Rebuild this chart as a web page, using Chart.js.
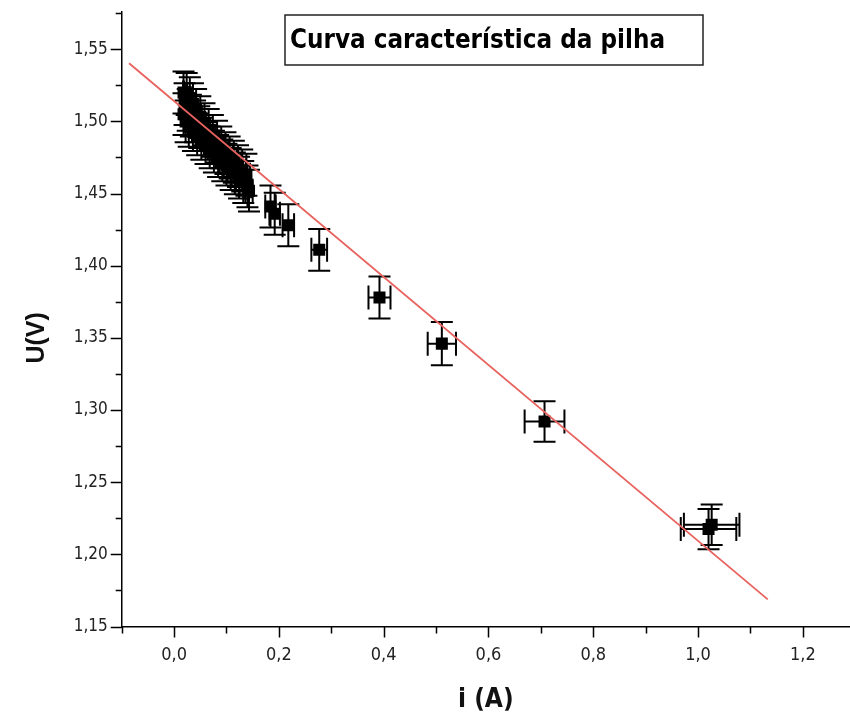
<!DOCTYPE html>
<html>
<head>
<meta charset="utf-8">
<script src="https://cdn.jsdelivr.net/npm/chart.js@4/dist/chart.umd.min.js"></script>
<style>
  html, body { margin: 0; padding: 0; background: #fff; overflow: hidden; }
  #wrap { width: 850px; height: 723px; }
</style>
</head>
<body>
<div id="wrap"><canvas id="myChart" width="850" height="723"></canvas></div>
<script>
var current = [0.018, 0.024, 0.030, 0.036, 0.042, 0.050, 0.058, 0.066, 0.074, 0.082,
               0.090, 0.098, 0.106, 0.114, 0.122, 0.130, 0.138,
               0.018, 0.022, 0.028, 0.036, 0.044, 0.052, 0.060, 0.068, 0.076, 0.084,
               0.092, 0.100, 0.108, 0.116, 0.124, 0.132, 0.140, 0.143,
               0.020, 0.026, 0.032, 0.040, 0.048,
               0.184, 0.192, 0.218, 0.277, 0.392, 0.511, 0.707, 1.020, 1.026];
var voltage = [1.520, 1.519, 1.516, 1.512, 1.508, 1.503, 1.498, 1.494, 1.490, 1.486,
               1.482, 1.478, 1.475, 1.472, 1.469, 1.466, 1.463,
               1.505, 1.500, 1.497, 1.494, 1.491, 1.488, 1.485, 1.482, 1.479, 1.476,
               1.473, 1.470, 1.467, 1.464, 1.461, 1.458, 1.455, 1.452,
               1.512, 1.508, 1.504, 1.500, 1.496,
               1.441, 1.436, 1.428, 1.411, 1.378, 1.346, 1.292, 1.2175, 1.2205];
// error bars
var currentErr = [0.001, 0.001, 0.002, 0.002, 0.002, 0.003, 0.003, 0.003, 0.004, 0.004,
                  0.005, 0.005, 0.006, 0.006, 0.006, 0.007, 0.007,
                  0.001, 0.001, 0.001, 0.002, 0.002, 0.003, 0.003, 0.004, 0.004, 0.004,
                  0.005, 0.005, 0.006, 0.006, 0.006, 0.007, 0.007, 0.007,
                  0.001, 0.001, 0.002, 0.002, 0.002,
                  0.010, 0.010, 0.011, 0.015, 0.021, 0.027, 0.038, 0.053, 0.053];
var voltageErr = [0.0145, 0.0145, 0.0145, 0.0145, 0.0145, 0.0145, 0.0145, 0.0145, 0.0145, 0.0145,
                  0.0145, 0.0145, 0.0145, 0.0145, 0.0145, 0.0145, 0.0145,
                  0.0145, 0.0145, 0.0145, 0.0145, 0.0145, 0.0145, 0.0145, 0.0145, 0.0145, 0.0145,
                  0.0145, 0.0145, 0.0145, 0.0145, 0.0145, 0.0145, 0.0145, 0.0145,
                  0.0145, 0.0145, 0.0145, 0.0145, 0.0145,
                  0.0145, 0.0145, 0.0145, 0.0145, 0.0145, 0.015, 0.014, 0.014, 0.014];
// linear fit (red line) end points
var fitCurrent = [-0.086, 1.133];
var fitVoltage = [1.5403, 1.1688];

var chartTitle = 'Curva característica da pilha';
var xTitle = 'i (A)';
var yTitle = 'U(V)';

var narrow = "'DejaVu Sans Condensed', 'Liberation Sans', sans-serif";

function isMajor(v, per) {
    var k = v * per;
    return Math.abs(k - Math.round(k)) < 1e-6;
}

var points = current.map(function(c, i) { return {x: c, y: voltage[i]}; });
var fit = fitCurrent.map(function(c, i) { return {x: c, y: fitVoltage[i]}; });

// error bars, drawn under the markers
var errorBars = {
    id: 'errorBars',
    beforeDatasetsDraw: function(chart) {
        var ctx = chart.ctx;
        var xs = chart.scales.x, ys = chart.scales.y;
        ctx.save();
        ctx.strokeStyle = '#000';
        ctx.lineWidth = 2;
        for (var i = 0; i < current.length; i++) {
            var px = xs.getPixelForValue(current[i]);
            var py = ys.getPixelForValue(voltage[i]);
            var y1 = ys.getPixelForValue(voltage[i] + voltageErr[i]);
            var y2 = ys.getPixelForValue(voltage[i] - voltageErr[i]);
            var x1 = xs.getPixelForValue(current[i] - currentErr[i]);
            var x2 = xs.getPixelForValue(current[i] + currentErr[i]);
            ctx.beginPath();
            ctx.moveTo(px, y1); ctx.lineTo(px, y2);
            ctx.moveTo(px - 11, y1); ctx.lineTo(px + 11, y1);
            ctx.moveTo(px - 11, y2); ctx.lineTo(px + 11, y2);
            ctx.moveTo(x1, py); ctx.lineTo(x2, py);
            ctx.moveTo(x1, py - 12); ctx.lineTo(x1, py + 12);
            ctx.moveTo(x2, py - 12); ctx.lineTo(x2, py + 12);
            ctx.stroke();
        }
        ctx.restore();
    }
};

// outward ticks, long on labelled values
var tickMarks = {
    id: 'tickMarks',
    afterDraw: function(chart) {
        var ctx = chart.ctx;
        var xs = chart.scales.x, ys = chart.scales.y;
        ctx.save();
        ctx.strokeStyle = '#000';
        ctx.lineWidth = 1.5;
        ctx.beginPath();
        xs.ticks.forEach(function(t) {
            var p = Math.round(xs.getPixelForValue(t.value)) + 0.5;
            var len = isMajor(t.value, 5) ? 11 : 7;
            ctx.moveTo(p, xs.top); ctx.lineTo(p, xs.top + len);
        });
        ys.ticks.forEach(function(t) {
            var p = Math.round(ys.getPixelForValue(t.value)) + 0.5;
            var len = isMajor(t.value, 20) ? 11 : 6;
            ctx.moveTo(ys.right, p); ctx.lineTo(ys.right - len, p);
        });
        ctx.stroke();

        // y axis title, level with 1,35 as in the original
        ctx.fillStyle = '#111';
        ctx.font = "bold 25px 'Liberation Sans', Arial, sans-serif";
        ctx.textAlign = 'center';
        ctx.textBaseline = 'middle';
        ctx.translate(37, ys.getPixelForValue(1.35));
        ctx.rotate(-Math.PI / 2);
        ctx.fillText(yTitle, 0, 0);
        ctx.restore();
    }
};

// boxed title inside the plot
var boxTitle = {
    id: 'boxTitle',
    afterDraw: function(chart) {
        var ctx = chart.ctx;
        ctx.save();
        ctx.strokeStyle = '#222';
        ctx.lineWidth = 1.5;
        ctx.strokeRect(285, 15, 418, 50);
        ctx.fillStyle = '#000';
        ctx.font = 'bold 27px ' + narrow;
        ctx.textBaseline = 'middle';
        ctx.textAlign = 'left';
        ctx.translate(290, 41);
        ctx.scale(375 / ctx.measureText(chartTitle).width, 1);
        ctx.fillText(chartTitle, 0, 0);
        ctx.restore();
    }
};

var ctx = document.getElementById('myChart').getContext('2d');
var chart = new Chart(ctx, {
    type: 'scatter',
    data: {
        datasets: [
        {
            label: 'fit',
            type: 'line',
            data: fit,
            borderColor: '#e8625e',
            borderWidth: 1.8,
            pointRadius: 0,
            fill: false
        },
        {
            label: 'U',
            data: points,
            pointStyle: 'rect',
            pointRadius: 8.5,
            backgroundColor: '#000',
            borderColor: '#000',
            borderWidth: 0
        }]
    },
    options: {
        responsive: false,
        animation: false,
        layout: { autoPadding: false, padding: { top: 11.7, left: 0, right: 0, bottom: 0 } },
        plugins: {
            legend: { display: false },
            tooltip: { enabled: false }
        },
        scales: {
            x: {
                type: 'linear',
                min: -0.1,
                max: 1.29,
                afterFit: function(s) { s.height = 96.5; s.paddingLeft = 0; s.paddingRight = 0; },
                border: { color: '#000', width: 1.5 },
                grid: { display: false, drawTicks: false },
                ticks: {
                    stepSize: 0.1,
                    includeBounds: false,
                    autoSkip: false,
                    maxRotation: 0,
                    padding: 18,
                    color: '#222',
                    font: { family: narrow, size: 18 },
                    callback: function(v) { return isMajor(v, 5) ? v.toFixed(1).replace('.', ',') : ''; }
                },
                title: {
                    display: true,
                    text: xTitle,
                    color: '#111',
                    font: { family: narrow, size: 26, weight: 'bold' },
                    padding: { top: 7, bottom: 7 }
                }
            },
            y: {
                type: 'linear',
                min: 1.15,
                max: 1.576,
                afterFit: function(s) { s.width = 121.7; s.paddingTop = 0; s.paddingBottom = 0; },
                border: { color: '#000', width: 1.5 },
                grid: { display: false, drawTicks: false },
                ticks: {
                    stepSize: 0.025,
                    includeBounds: false,
                    autoSkip: false,
                    padding: 14,
                    color: '#222',
                    font: { family: narrow, size: 17 },
                    callback: function(v) { return isMajor(v, 20) ? v.toFixed(2).replace('.', ',') : ''; }
                },
                title: { display: false }
            }
        }
    },
    plugins: [errorBars, tickMarks, boxTitle]
});
</script>
</body>
</html>
